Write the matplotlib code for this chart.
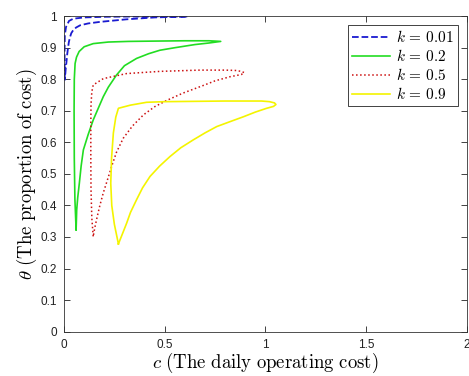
import matplotlib
matplotlib.use("Agg")
import matplotlib.pyplot as plt

plt.rcParams['mathtext.fontset'] = 'cm'
plt.rcParams['font.family'] = ['Liberation Sans', 'DejaVu Sans']

# k = 0.01
c_01 = [0.004, 0.003, 0.003, 0.004, 0.01, 0.025, 0.046, 0.1, 0.2, 0.35, 0.5, 0.615,
        0.45, 0.31, 0.18, 0.12, 0.08, 0.06, 0.045, 0.036, 0.03, 0.024, 0.02,
        0.016, 0.013, 0.008, 0.004]
t_01 = [0.797, 0.85, 0.90, 0.94, 0.966, 0.985, 0.992, 0.996, 0.998, 0.999, 0.999, 0.999,
        0.996, 0.99, 0.982, 0.977, 0.971, 0.964, 0.955, 0.946, 0.934, 0.918, 0.90,
        0.88, 0.86, 0.83, 0.797]

# k = 0.2
c_02 = [0.06, 0.054, 0.051, 0.05, 0.051, 0.055, 0.062, 0.075, 0.1, 0.145, 0.22,
        0.32, 0.45, 0.6, 0.72, 0.778,
        0.72, 0.65, 0.55, 0.476, 0.42, 0.36, 0.3, 0.26, 0.22, 0.195, 0.17, 0.145,
        0.12, 0.096, 0.085, 0.076, 0.068, 0.063, 0.06]
t_02 = [0.323, 0.42, 0.55, 0.7, 0.8, 0.85, 0.87, 0.888, 0.903, 0.913, 0.918,
        0.92, 0.921, 0.922, 0.922, 0.92,
        0.915, 0.91, 0.90, 0.892, 0.881, 0.866, 0.843, 0.813, 0.775, 0.745, 0.708,
        0.671, 0.625, 0.576, 0.525, 0.47, 0.425, 0.386, 0.323]

# k = 0.5
c_05 = [0.145, 0.138, 0.134, 0.133, 0.133, 0.134, 0.138, 0.145, 0.195, 0.31, 0.476,
        0.675, 0.8, 0.85, 0.88, 0.895,
        0.88, 0.824, 0.75, 0.69, 0.59, 0.51, 0.45, 0.394, 0.34, 0.294, 0.26, 0.237,
        0.215, 0.195, 0.178, 0.165, 0.153, 0.145]
t_05 = [0.302, 0.36, 0.45, 0.55, 0.65, 0.72, 0.76, 0.782, 0.802, 0.818, 0.825,
        0.829, 0.829, 0.828, 0.825, 0.821,
        0.815, 0.808, 0.795, 0.78, 0.756, 0.733, 0.713, 0.687, 0.652, 0.613, 0.568,
        0.525, 0.48, 0.44, 0.40, 0.365, 0.33, 0.302]

# k = 0.9
c_09 = [0.27, 0.25, 0.237, 0.232, 0.236, 0.245, 0.257, 0.27, 0.33, 0.41, 0.5,
        0.65, 0.8, 0.98, 1.02, 1.045, 1.052,
        1.04, 1.006, 0.95, 0.89, 0.83, 0.758, 0.7, 0.642, 0.58, 0.526, 0.475, 0.427,
        0.39, 0.36, 0.33, 0.311, 0.29, 0.27]
t_09 = [0.278, 0.34, 0.40, 0.47, 0.55, 0.63, 0.68, 0.708, 0.718, 0.727, 0.729,
        0.73, 0.731, 0.731, 0.729, 0.725, 0.72,
        0.714, 0.708, 0.696, 0.681, 0.667, 0.65, 0.63, 0.608, 0.583, 0.555, 0.525,
        0.492, 0.456, 0.418, 0.378, 0.344, 0.31, 0.278]

fig = plt.figure( figsize=(4.69, 3.76), dpi=100 )
ax = fig.add_axes( [0.1365, 0.118, 0.859, 0.839] )

ax.plot( c_01, t_01, '--', color='#1a1ad0', lw=1.3, label=r'$k\,=\,0.01$' )
ax.plot( c_02, t_02, '-', color='#22dd22', lw=1.2, label=r'$k\,=\,0.2$' )
ax.plot( c_05, t_05, ':', color='#cc1111', lw=1.1, label=r'$k\,=\,0.5$' )
ax.plot( c_09, t_09, '-', color='#f4f400', lw=1.2, label=r'$k\,=\,0.9$' )

ax.set_xlim( 0, 2 )
ax.set_ylim( 0, 1 )
ax.set_xticks( [0, 0.5, 1, 1.5, 2] )
ax.set_xticklabels( ['0', '0.5', '1', '1.5', '2'] )
ax.set_yticks( [i/10 for i in range(11)] )
ax.set_yticklabels( ['0', '0.1', '0.2', '0.3', '0.4', '0.5', '0.6', '0.7', '0.8', '0.9', '1'] )
ax.tick_params( direction='in', top=True, right=True, length=4, width=0.6,
                labelsize=8.5, colors='#222222', pad=5 )
for s in ax.spines.values():
    s.set_linewidth( 0.6 )
    s.set_color( '#333333' )

ax.set_xlabel( r'$c\ \mathrm{(The\ daily\ operating\ cost)}$', fontsize=13.5, labelpad=0 )
ax.set_ylabel( r'$\theta\ \mathrm{(The\ proportion\ of\ cost)}$', fontsize=13.5, labelpad=1 )

leg = ax.legend( loc='upper right', fontsize=11, handlelength=2.5, fancybox=False,
                 edgecolor='#222222', framealpha=1, borderaxespad=0.6,
                 labelspacing=0.2, handletextpad=0.4, borderpad=0.25 )
leg.get_frame().set_linewidth( 0.6 )

fig.savefig( "out.png" )
